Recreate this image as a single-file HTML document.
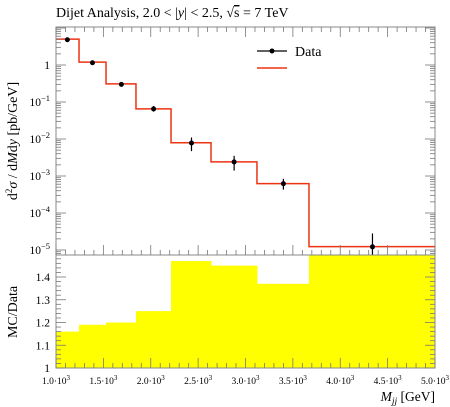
<!DOCTYPE html>
<html><head><meta charset="utf-8"><style>
body{margin:0;background:#fff;}
svg{display:block;font-family:"Liberation Serif",serif;}
</style></head><body>
<svg id="c" width="450" height="407" xmlns="http://www.w3.org/2000/svg"></svg>
<script>
const edges=[1000,1243,1528,1844,2214,2636,3121,3670,5000];
const mcValues=[5.0,1.2,0.31,0.065,0.0079,0.0024,0.00062,0.0000123];
const dataX=[1120,1385,1690,2030,2430,2880,3400,4340];
const dataY=[4.8,1.15,0.3,0.065,0.0078,0.0024,0.00062,0.0000122];
const errLo=[4.4,1.05,0.27,0.055,0.0047,0.0014,0.00043,0.0000058];
const errHi=[5.2,1.25,0.33,0.078,0.011,0.0035,0.00084,0.000028];
const ratio=[1.16,1.19,1.2,1.25,1.47,1.45,1.37,1.6];
const xTicks=[1000,1500,2000,2500,3000,3500,4000,4500,5000];
const xTickLabels=["1.0","1.5","2.0","2.5","3.0","3.5","4.0","4.5","5.0"];
const yDecades=[0,-1,-2,-3,-4,-5];
const rTicks=[1,1.1,1.2,1.3,1.4];

const NS="http://www.w3.org/2000/svg";
const svg=document.getElementById('c');
const L=56,R=435,T=27,M=255,B=368;
const X=v=>L+(v-1000)/4000*(R-L);
const Y=v=>65-37*Math.log10(v);
const RY=v=>B-(v-1)*227.5;
function el(tag,attrs,parent){const e=document.createElementNS(NS,tag);for(const k in attrs)e.setAttribute(k,attrs[k]);(parent||svg).appendChild(e);return e;}

let t=el('text',{x:56,y:17,'font-size':14});

t.innerHTML='Dijet Analysis, 2.0 &lt; |<tspan font-style="italic">y</tspan>| &lt; 2.5, √<tspan text-decoration="overline">s</tspan> = 7 TeV';

const clip=el('clipPath',{id:'rc'});el('rect',{x:L,y:M,width:R-L,height:B-M},clip);
const rg=el('g',{'clip-path':'url(#rc)'});
ratio.forEach((r,i)=>{const b=el('rect',{x:X(edges[i]),y:RY(r),width:X(edges[i+1])-X(edges[i])+0.5,height:B-RY(r),fill:'#ffff00'},rg);

});

let d='M'+X(edges[0])+','+Y(mcValues[0]);
mcValues.forEach((v,i)=>{if(i>0)d+='V'+Y(v);d+='H'+X(edges[i+1]);});
let p=el('path',{d:d,fill:'none',stroke:'#ee3311','stroke-width':1.5});


dataX.forEach((x,i)=>{const g=el('g',{});


el('line',{x1:X(x),x2:X(x),y1:Math.min(Y(errLo[i]),M),y2:Y(errHi[i]),stroke:'#000','stroke-width':1.2},g);
el('circle',{cx:X(x),cy:Y(dataY[i]),r:2.5,fill:'#000'},g);});

el('rect',{x:L,y:T,width:R-L,height:M-T,fill:'none',stroke:'#888','stroke-width':1});
el('rect',{x:L,y:M,width:R-L,height:B-M,fill:'none',stroke:'#888','stroke-width':1});

for(let v=1000;v<=5000;v+=100){const major=v%500===0;const len=major?10:5;const x=X(v);
[M,B].forEach(base=>{el('line',{x1:x,x2:x,y1:base,y2:base-len,stroke:'#777','stroke-width':0.8});});
el('line',{x1:x,x2:x,y1:T,y2:T+len,stroke:'#777','stroke-width':0.8});}
xTicks.forEach((v,i)=>{const tx=el('text',{x:X(v),y:384,'font-size':9.5,'text-anchor':'middle'});

tx.innerHTML=xTickLabels[i]+'·10<tspan dy="-4" font-size="7">3</tspan>';});
let xt=el('text',{x:435,y:401,'font-size':13.5,'text-anchor':'end'});

xt.innerHTML='<tspan font-style="italic">M</tspan><tspan font-style="italic" font-size="9.5" dy="3">jj</tspan><tspan dy="-3"> [GeV]</tspan>';

for(let dcd=-6;dcd<=1;dcd++){for(let m=1;m<10;m++){const v=m*Math.pow(10,dcd);const y=Y(v);if(y<T||y>M)continue;const len=m===1?10:5;
el('line',{x1:L,x2:L+len,y1:y,y2:y,stroke:'#777','stroke-width':0.8});
el('line',{x1:R,x2:R-len,y1:y,y2:y,stroke:'#777','stroke-width':0.8});}}
yDecades.forEach(e=>{const ty=el('text',{x:50,y:Y(Math.pow(10,e))+4,'font-size':11.5,'text-anchor':'end'});

ty.innerHTML=e===0?'1':'10<tspan dy="-5" font-size="8.5">−'+(-e)+'</tspan>';});
let yt=el('text',{transform:'translate(17,141) rotate(-90)','font-size':14,'text-anchor':'middle'});

yt.innerHTML='d<tspan dy="-5" font-size="9">2</tspan><tspan dy="5" font-style="italic">σ</tspan> / d<tspan font-style="italic">M</tspan>d<tspan font-style="italic">y</tspan> [pb/GeV]';

for(let v=1;v<=1.5;v+=0.02){const y=RY(v);const major=Math.abs(v*10-Math.round(v*10))<1e-6;const len=major?10:5;
el('line',{x1:L,x2:L+len,y1:y,y2:y,stroke:'#777','stroke-width':0.8});
el('line',{x1:R,x2:R-len,y1:y,y2:y,stroke:'#777','stroke-width':0.8});}
rTicks.forEach(v=>{const tr=el('text',{x:50,y:RY(v)+4,'font-size':11.5,'text-anchor':'end'});

tr.textContent=v===1?'1':v.toFixed(1);});
let rt=el('text',{transform:'translate(17,312) rotate(-90)','font-size':14,'text-anchor':'middle'});

rt.textContent='MC/Data';

const lg=el('g',{});

el('line',{x1:257,x2:287,y1:51,y2:51,stroke:'#000','stroke-width':1.2},lg);
el('circle',{cx:272,cy:51,r:2.5,fill:'#000'},lg);
let lt=el('text',{x:295,y:56,'font-size':14},lg);lt.textContent='Data';
el('line',{x1:257,x2:287,y1:68,y2:68,stroke:'#ee3311','stroke-width':1.5},lg);
</script>
</body></html>
